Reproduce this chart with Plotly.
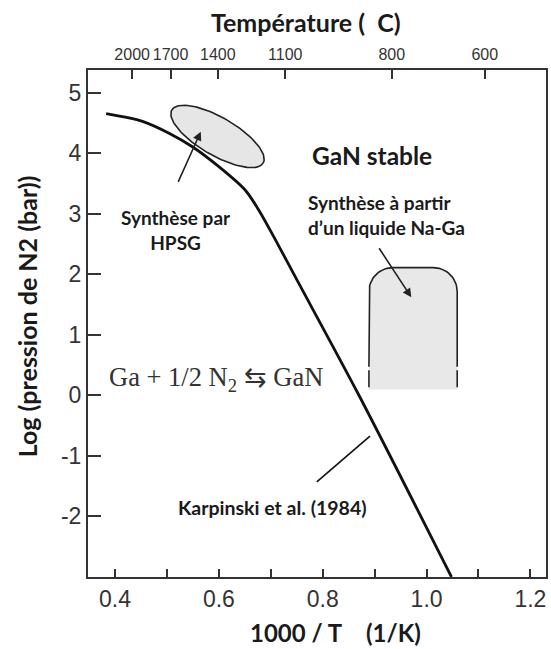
import numpy as np
import plotly.graph_objects as go

# ---------------- data ----------------
curve_x = [0.383, 0.42, 0.453, 0.505, 0.549, 0.600, 0.651, 0.677, 0.709, 0.747, 0.869, 1.048]
curve_y = [4.66, 4.60, 4.53, 4.33, 4.11, 3.78, 3.39, 3.06, 2.57, 1.96, 0.01, -3.01]

x_ticks = [0.4, 0.6, 0.8, 1.0, 1.2]
x_minor = [0.5, 0.7, 0.9, 1.1]
y_ticks = [-2, -1, 0, 1, 2, 3, 4, 5]
y_tick_text = ["-2", "-1", "0", "1", "2", "3", "4", "5"]
top_tick_pos = [0.433, 0.507, 0.598, 0.728, 0.933, 1.112]
top_tick_text = ["2000", "1700", "1400", "1100", "800", "600"]

x_range = [0.348, 1.230]
y_range = [-3.01, 5.38]

# HPSG region (ellipse): center (x, logP), semi-axes/angle in screen pixels
hpsg_center = (0.5974, 4.28)
hpsg_axes_px = (53, 19)
hpsg_angle_deg = 30

# Na-Ga region (rounded box)
naga_left, naga_right = 0.889, 1.059
naga_top, naga_bottom = 2.11, 0.094
naga_solid_bottom = 0.47
naga_dash = (0.41, 0.13)
naga_corner_px = 24

hpsg_arrow = dict(tail=(0.5204, 3.505), head=(0.5652, 4.36))
naga_arrow = dict(tail=(0.9068, 2.455), head=(0.9706, 1.618))
karp_line = dict(a=(0.7886, -1.435), b=(0.891, -0.679))

# ---------------- layout geometry ----------------
W, H = 551, 649
ML, MR, MT, MB = 88, 3, 70, 72
pw, ph = W - ML - MR, H - MT - MB
px_per_x = pw / (x_range[1] - x_range[0])
px_per_y = ph / (y_range[1] - y_range[0])

def paper_x(px):
    return (px - ML) / pw

def paper_y(py):
    return 1 - (py - MT) / ph

fig = go.Figure()

# ellipse
t = np.linspace(0, 2 * np.pi, 120)
a, b = hpsg_axes_px
th = np.radians(hpsg_angle_deg)
ex_px = a * np.cos(t) * np.cos(th) - b * np.sin(t) * np.sin(th)
ey_px = a * np.cos(t) * np.sin(th) + b * np.sin(t) * np.cos(th)  # downward positive
ell_x = hpsg_center[0] + ex_px / px_per_x
ell_y = hpsg_center[1] - ey_px / px_per_y
fig.add_trace(go.Scatter(x=ell_x, y=ell_y, mode="lines", fill="toself",
                         fillcolor="#e6e6e6", line=dict(color="#222", width=1.6),
                         hoverinfo="skip", showlegend=False))

# rounded box
rx = naga_corner_px / px_per_x
ry = naga_corner_px / px_per_y
ang = np.linspace(np.pi, np.pi / 2, 20)
lc_x = naga_left + rx + rx * np.cos(ang)
lc_y = naga_top - ry + ry * np.sin(ang)
ang2 = np.linspace(np.pi / 2, 0, 20)
rc_x = naga_right - rx + rx * np.cos(ang2)
rc_y = naga_top - ry + ry * np.sin(ang2)
fill_x = np.concatenate([[naga_left], lc_x, rc_x, [naga_right, naga_right, naga_left]])
fill_y = np.concatenate([[naga_bottom], lc_y, rc_y, [naga_bottom, naga_bottom, naga_bottom]])
fig.add_trace(go.Scatter(x=fill_x, y=fill_y, mode="lines", fill="toself",
                         fillcolor="#e8e8e8", line=dict(width=0),
                         hoverinfo="skip", showlegend=False))
out_x = np.concatenate([[naga_left], lc_x, rc_x, [naga_right]])
out_y = np.concatenate([[naga_solid_bottom], lc_y, rc_y, [naga_solid_bottom]])
fig.add_trace(go.Scatter(x=out_x, y=out_y, mode="lines",
                         line=dict(color="#222", width=1.6),
                         hoverinfo="skip", showlegend=False))
for xs in (naga_left, naga_right):
    fig.add_trace(go.Scatter(x=[xs, xs], y=list(naga_dash), mode="lines",
                             line=dict(color="#222", width=1.6),
                             hoverinfo="skip", showlegend=False))

# main curve
fig.add_trace(go.Scatter(x=curve_x, y=curve_y, mode="lines",
                         line=dict(color="#111", width=2.8, shape="spline", smoothing=0.8),
                         hoverinfo="skip", showlegend=False))

# Karpinski leader line
fig.add_trace(go.Scatter(x=[karp_line["a"][0], karp_line["b"][0]],
                         y=[karp_line["a"][1], karp_line["b"][1]], mode="lines",
                         line=dict(color="#111", width=1.6),
                         hoverinfo="skip", showlegend=False))

# top axis anchor trace
fig.add_trace(go.Scatter(x=top_tick_pos, y=[None] * len(top_tick_pos), xaxis="x2",
                         mode="markers", showlegend=False, hoverinfo="skip"))

bold = "Lato"
ink = "#1a1a1a"
ann = []
for arr in (hpsg_arrow, naga_arrow):
    ann.append(dict(x=arr["head"][0], y=arr["head"][1], ax=arr["tail"][0], ay=arr["tail"][1],
                    xref="x", yref="y", axref="x", ayref="y", text="", showarrow=True,
                    arrowhead=2, arrowsize=1.1, arrowwidth=1.6, arrowcolor="#222"))

def label(px, py, text, size, family=bold, color=ink, **kw):
    d = dict(x=paper_x(px), y=paper_y(py), xref="paper", yref="paper", text=text,
             showarrow=False, yanchor="middle", font=dict(family=family, size=size, color=color))
    d.setdefault("xanchor", "center")
    d.update(kw)
    return d

ann += [
    label(373, 155, "<b>GaN stable</b>", 24.5),
    label(176, 230, "<b>Synthèse par<br>HPSG</b>", 19),
    label(307, 215, "<b>Synthèse à partir<br>d’un liquide Na-Ga</b>", 19, xanchor="left", align="left"),
    label(107, 379, "Ga + 1/2 N<sub>2</sub> \u21c6 GaN", 26.5, family="Liberation Serif", color="#333",
          xanchor="left"),
    label(273, 507, "<b>Karpinski et al. (1984)</b>", 19.5),
    label(307, 22, "<b>Température (\u00a0\u00a0C)</b>", 25),
    label(297, 632, "<b>1000 / T</b>", 24),
    label(395, 632, "<b>(1/K)</b>", 24),
    label(27, 316, "<b>Log (pression de N2 (bar))</b>", 25, textangle=-90),
]

axis_font = dict(family="Liberation Sans", size=23, color="#333")

fig.update_layout(
    width=W, height=H,
    margin=dict(l=ML, r=MR, t=MT, b=MB),
    paper_bgcolor="white", plot_bgcolor="white",
    annotations=ann,
    xaxis=dict(range=x_range, tickvals=x_ticks + x_minor,
               ticktext=[f"{v:.1f}" for v in x_ticks] + [""] * len(x_minor),
               ticks="inside", ticklen=8, tickwidth=1.5, tickcolor="#333",
               showline=True, linecolor="#333", linewidth=2, mirror=True,
               showgrid=False, zeroline=False, tickfont=axis_font),
    xaxis2=dict(range=x_range, overlaying="x", side="top", anchor="y",
                tickvals=top_tick_pos, ticktext=top_tick_text, tickangle=0,
                ticks="inside", ticklen=9, tickwidth=1.5, tickcolor="#333",
                showline=False, showgrid=False, zeroline=False, ticklabelstandoff=6,
                tickfont=dict(family="Liberation Sans", size=16, color="#333")),
    yaxis=dict(range=y_range, tickvals=y_ticks, ticktext=y_tick_text,
               ticks="inside", ticklen=13, tickwidth=1.5, tickcolor="#333",
               showline=True, linecolor="#333", linewidth=2, mirror=True,
               showgrid=False, zeroline=False, tickfont=axis_font),
)

fig.write_html("out.html", config={"displayModeBar": False},
               post_script="document.body.style.margin='0';document.body.style.overflow='hidden';")
